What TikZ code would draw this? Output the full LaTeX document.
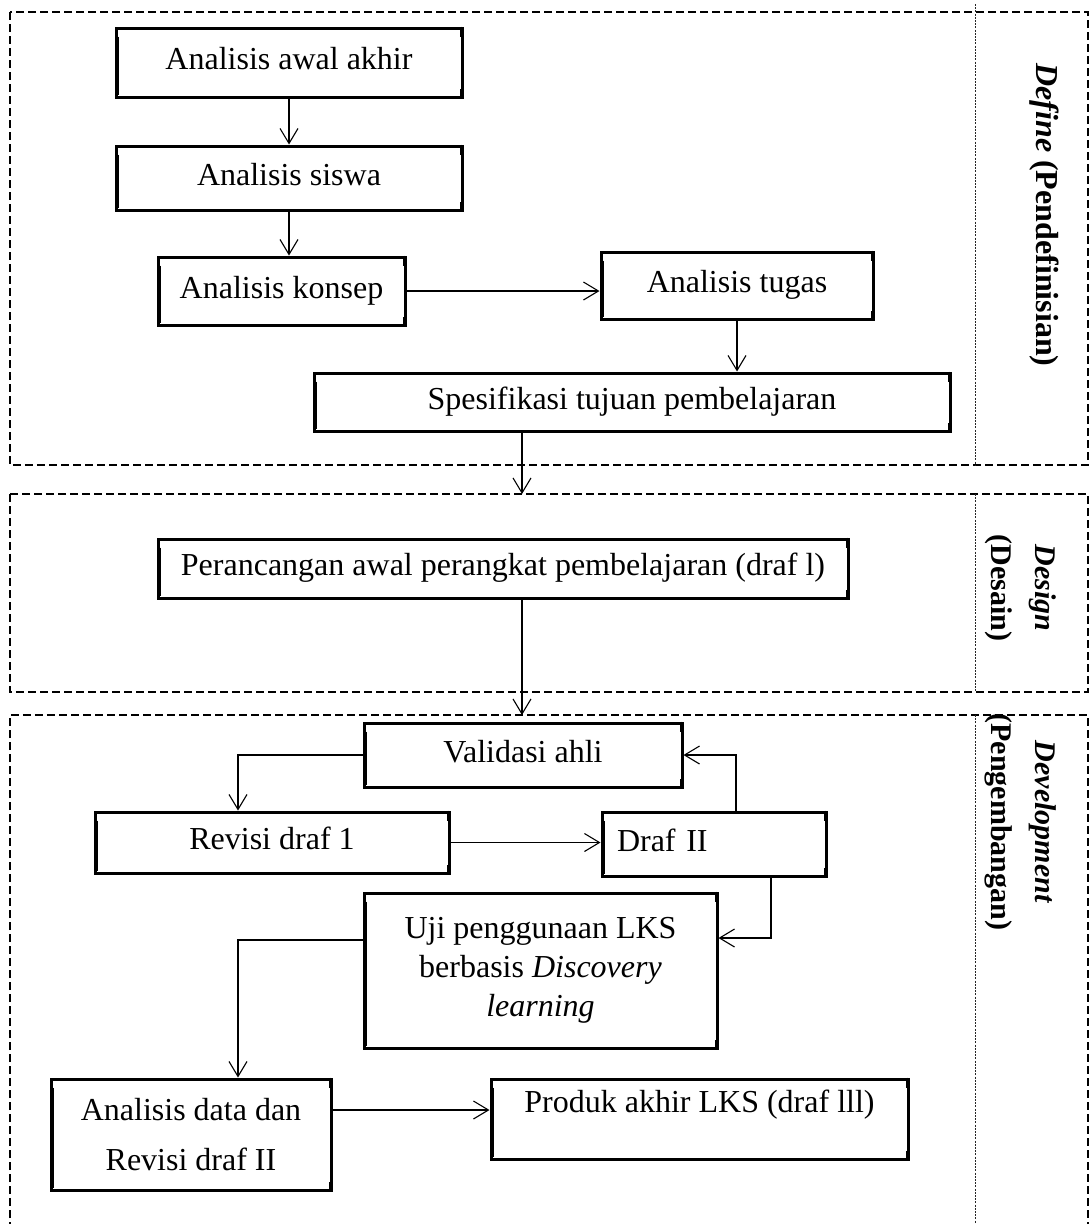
\documentclass[tikz,border=0pt]{standalone}
\usepackage{fontspec}
\setmainfont{Liberation Serif}
\usetikzlibrary{arrows.meta}
\begin{document}
\begin{tikzpicture}[x=1pt,y=-1pt,
  box/.style={draw=black, line width=3pt, inner sep=0pt, font=\fontsize{32}{38}\selectfont, align=center},
  one/.style={text height=22pt, text depth=8pt},
  frame/.style={draw=black, line width=2.6pt, dash pattern=on 8pt off 4pt},
  divider/.style={draw=black!85, line width=0.9pt, dash pattern=on 2pt off 1.2pt},
  arr/.style={draw=black, line width=1.1pt, -{Straight Barb[length=15pt,width=18pt,line width=1.1pt]}},
  edgebar/.style={draw=black, line width=2.5pt},
  phase/.style={font=\fontsize{30}{44}\selectfont\bfseries, rotate=-90, align=center, inner sep=0pt}
]
\useasboundingbox (0,0) rectangle (1092,1224);

% frames
\draw[frame] (10,12) rectangle (1088,465);
\draw[frame] (10,494) rectangle (1088,692);
\draw[frame] (10,1230) -- (10,715) -- (1088,715) -- (1088,1230);
\draw[divider] (975,4) -- (975,465);
\draw[divider] (975,494) -- (975,692);
\draw[divider] (975,715) -- (975,1226);

% phase labels
\node[phase, font=\fontsize{32}{44}\selectfont\bfseries] (pdef) at (1044,215) {\textit{Define} (Pendefinisian)};
\node[phase] (pdes) at (1021,588) {\textit{Design}\\(Desain)};
\node[phase] (pdev) at (1021,822) {\textit{Development}\\(Pengembangan)};

% boxes
\node[box, one, minimum width=346pt, minimum height=69pt] (awal) at (289,62.5) {Analisis awal akhir};
\node[box, one, minimum width=346pt, minimum height=64pt] (siswa) at (289,178) {Analisis siswa};
\node[box, one, minimum width=247pt, minimum height=68pt] (konsep) at (281.5,291) {Analisis konsep};
\node[box, one, minimum width=272pt, minimum height=67pt] (tugas) at (737,285.5) {Analisis tugas};
\node[box, one, minimum width=636pt, minimum height=58pt] (spes) at (632,402) {Spesifikasi tujuan pembelajaran};
\node[box, one, minimum width=690pt, minimum height=59pt] (peran) at (503,568.5) {Perancangan awal perangkat pembelajaran (draf l)};
\node[box, one, minimum width=318pt, minimum height=64pt] (valid) at (523,755) {Validasi ahli};
\node[box, one, minimum width=354pt, minimum height=61pt] (revisi) at (272,842.5) {Revisi draf 1};
\node[box, one, text width=194pt, align=left, inner xsep=15pt, minimum height=64pt] (draf2) at (714,844) {Draf II};
\node[box, font=\fontsize{32}{39}\selectfont, minimum width=353pt, minimum height=155pt] (uji) at (540.5,970.5) {Uji penggunaan LKS\\berbasis \textit{Discovery}\\\textit{learning}};
\node[box, font=\fontsize{32}{50}\selectfont, minimum width=280pt, minimum height=111pt] (anal) at (191,1134.5) {Analisis data dan\\Revisi draf II};
\node[box, text height=33pt, text depth=47pt, minimum width=417pt] (produk) at (699.5,1119) {Produk akhir LKS (draf lll)};

% thick left bars and right corner ticks (textbox artefacts)
\foreach \n in {awal,siswa,konsep,tugas,spes,peran,valid,revisi,draf2,uji,anal,produk}{
  \draw[edgebar] ([xshift=2.8pt,yshift=-10pt]\n.north west) -- ([xshift=2.8pt,yshift=4pt]\n.south west);
  \draw[edgebar] ([xshift=-2.5pt]\n.north east) -- ([xshift=-2.5pt,yshift=-10pt]\n.north east);
  \draw[edgebar] ([xshift=-2.5pt]\n.south east) -- ([xshift=-2.5pt,yshift=10pt]\n.south east);
}

% connectors
\draw[arr] (awal.south) -- (awal.south |- siswa.north);
\draw[arr] (siswa.south) -- (siswa.south |- konsep.north);
\draw[arr] (konsep.east) -- (konsep.east -| tugas.west);
\draw[arr] (tugas.south) -- (tugas.south |- spes.north);
\coordinate (desIn) at (522,494);
\draw[arr] (desIn |- spes.south) -- (desIn);
\coordinate (devIn) at (522,715);
\draw[arr] (devIn |- peran.south) -- (devIn);
\draw[arr] (valid.west) -| ([xshift=-34pt]revisi.north);
\draw[arr] (revisi.east) -- (revisi.east -| draf2.west);
\draw[arr] ([xshift=22pt]draf2.north) |- (valid.east);
\draw[arr] ([xshift=57pt]draf2.south) |- ([yshift=32.5pt]uji.east);
\draw[arr] ([yshift=30.5pt]uji.west) -| ([xshift=47pt]anal.north);
\coordinate (ae) at ([yshift=24.5pt]anal.east);
\draw[arr] (ae) -- (ae -| produk.west);
\end{tikzpicture}
\end{document}
